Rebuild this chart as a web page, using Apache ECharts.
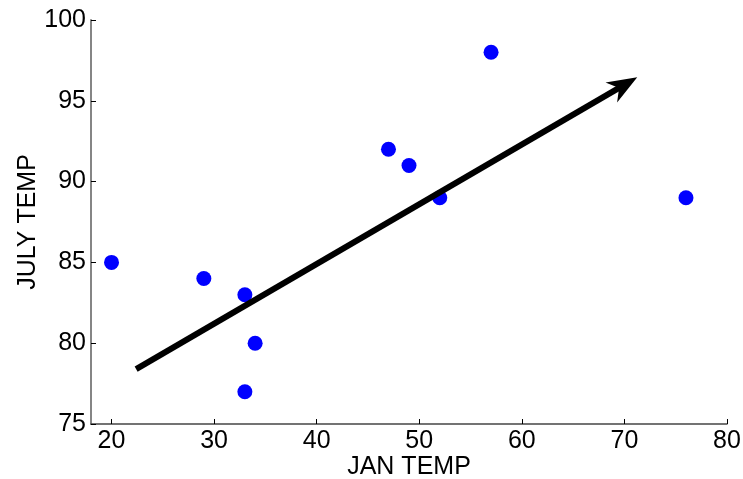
<!DOCTYPE html>
<html><head><meta charset="utf-8">
<script src="https://cdn.jsdelivr.net/npm/echarts@6/dist/echarts.min.js"></script>
<style>html,body{margin:0;padding:0;background:#fff;}#c{width:743px;height:479px;}</style>
</head><body><div id="c"></div>
<script>
const janTemp = [20, 29, 33, 33, 34, 47, 49, 52, 57, 76];
const julyTemp = [85, 84, 83, 77, 80, 92, 91, 89, 98, 89];
const xTicks = [20, 30, 40, 50, 60, 70, 80];
const yTicks = [75, 80, 85, 90, 95, 100];
const arrowStart = [22.4, 78.4];
const arrowTip = [71.25, 96.45];

const points = janTemp.map((x, i) => [x, julyTemp[i]]);
const font = '"Liberation Sans", Arial, Helvetica, sans-serif';

function renderArrow(params, api) {
  const p1 = api.coord([api.value(0), api.value(1)]);
  const p2 = api.coord([api.value(2), api.value(3)]);
  const dx = p2[0] - p1[0], dy = p2[1] - p1[1];
  const len = Math.sqrt(dx * dx + dy * dy);
  const ux = dx / len, uy = dy / len;
  const px = -uy, py = ux;
  const headLen = 30, headHalf = 11.5, notch = 21;
  const nb = [p2[0] - ux * notch, p2[1] - uy * notch];
  const b1 = [p2[0] - ux * headLen + px * headHalf, p2[1] - uy * headLen + py * headHalf];
  const b2 = [p2[0] - ux * headLen - px * headHalf, p2[1] - uy * headLen - py * headHalf];
  return {
    type: 'group',
    children: [
      {type: 'line', shape: {x1: p1[0], y1: p1[1], x2: nb[0] + ux * 2, y2: nb[1] + uy * 2},
       style: {stroke: '#000', lineWidth: 6, lineCap: 'butt'}},
      {type: 'polygon', shape: {points: [p2, b1, nb, b2]}, style: {fill: '#000', stroke: null}}
    ]
  };
}

const chart = echarts.init(document.getElementById('c'), null, {renderer: 'canvas'});
chart.setOption({
  animation: false,
  backgroundColor: '#ffffff',
  grid: {left: 91, right: 16, top: 20, bottom: 55, containLabel: false, outerBoundsMode: 'none'},
  xAxis: {
    type: 'value', min: 18, max: 80,
    name: 'JAN TEMP', nameLocation: 'middle', nameGap: 31, nameMoveOverlap: false,
    nameTextStyle: {fontFamily: font, fontSize: 25, color: '#000'},
    splitLine: {show: false},
    axisLine: {show: true, lineStyle: {color: '#454545', width: 1.5}},
    axisTick: {show: true, inside: true, length: 5, lineStyle: {color: '#000', width: 1}, customValues: xTicks},
    axisLabel: {fontFamily: font, fontSize: 25, color: '#000', margin: 5, customValues: xTicks}
  },
  yAxis: {
    type: 'value', min: yTicks[0], max: yTicks[yTicks.length - 1], interval: 5,
    name: 'JULY TEMP', nameLocation: 'middle', nameGap: 50, nameMoveOverlap: false,
    nameTextStyle: {fontFamily: font, fontSize: 25, color: '#000'},
    splitLine: {show: false},
    axisLine: {show: true, lineStyle: {color: '#858585', width: 2}},
    axisTick: {show: true, inside: true, length: 5, lineStyle: {color: '#000', width: 1}},
    axisLabel: {fontFamily: font, fontSize: 25, color: '#000', margin: 5}
  },
  series: [{
    type: 'scatter',
    data: points,
    symbol: 'circle',
    symbolSize: 15,
    itemStyle: {color: '#0000ff', opacity: 1},
    silent: true,
    z: 2
  }, {
    type: 'custom',
    renderItem: renderArrow,
    data: [[arrowStart[0], arrowStart[1], arrowTip[0], arrowTip[1]]],
    encode: {x: [0, 2], y: [1, 3]},
    clip: false,
    silent: true,
    z: 5
  }]
});
</script>
</body></html>
